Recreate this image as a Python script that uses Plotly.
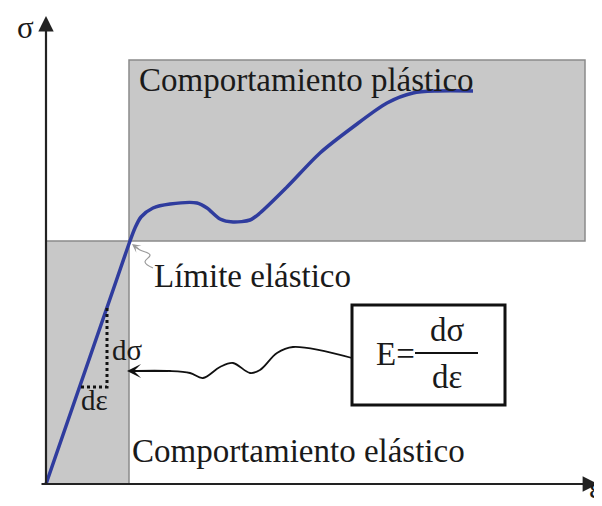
import plotly.graph_objects as go

# Stress-strain curve (strain epsilon, stress sigma) in arbitrary units
strain = [0.0, 0.42, 0.70, 0.84, 0.89, 0.95, 1.07, 1.24, 1.51, 1.61, 1.74, 1.87,
          2.04, 2.14, 2.41, 2.74, 3.07, 3.41, 3.67, 3.91, 4.27]
stress = [0.0, 1.215, 2.025, 2.43, 2.56, 2.67, 2.76, 2.80, 2.81, 2.76, 2.65, 2.62,
          2.64, 2.71, 2.97, 3.31, 3.57, 3.81, 3.91, 3.93, 3.93]

# Zones
elastic_eps = [0.0, 0.83]
elastic_sig = [0.0, 2.43]
plastic_eps = [0.83, 5.39]
plastic_sig = [2.43, 4.24]

# Slope triangle (d-sigma / d-epsilon)
tri_eps = [0.61, 0.61, 0.35]
tri_sig = [1.76, 0.97, 0.97]

# Wavy connector from formula box to the slope
wave_eps = [3.06, 2.47, 2.31, 2.14, 2.04, 1.87, 1.74, 1.57, 1.44, 1.24, 0.84]
wave_sig = [1.26, 1.37, 1.31, 1.14, 1.11, 1.21, 1.17, 1.06, 1.11, 1.13, 1.13]
wave_tip = [0.81, 1.13]

# Small wavy pointer to the elastic limit
lim_eps = [1.07, 0.99, 1.04, 0.94, 0.88]
lim_sig = [2.16, 2.22, 2.29, 2.34, 2.38]
lim_tip = [0.86, 2.40]

# Formula box
box_eps = [3.06, 4.59]
box_sig = [0.79, 1.79]

# Axis extents
x_axis = [-0.06, 5.52]
y_axis = [-0.02, 4.68]

SERIF = "Liberation Serif, Times New Roman, serif"
TXT = "#1a1a1a"

fig = go.Figure()

fig.add_trace(go.Scatter(x=strain, y=stress, mode="lines",
                         line=dict(color="#2f3c9e", width=3.5, shape="spline", smoothing=0.8),
                         hoverinfo="skip", showlegend=False))

fig.add_trace(go.Scatter(x=tri_eps, y=tri_sig, mode="lines",
                         line=dict(color="#111111", width=3, dash="dot"),
                         hoverinfo="skip", showlegend=False))

fig.add_trace(go.Scatter(x=wave_eps, y=wave_sig, mode="lines",
                         line=dict(color="#111111", width=1.8, shape="spline", smoothing=1.0),
                         hoverinfo="skip", showlegend=False))

fig.add_trace(go.Scatter(x=lim_eps, y=lim_sig, mode="lines",
                         line=dict(color="#9a9a9a", width=1.2, shape="spline", smoothing=1.2),
                         hoverinfo="skip", showlegend=False))

shapes = [
    dict(type="rect", xref="x", yref="y", x0=plastic_eps[0], x1=plastic_eps[1],
         y0=plastic_sig[0], y1=plastic_sig[1], fillcolor="#c8c8c8",
         line=dict(color="#8a8a8a", width=1.5), layer="below"),
    dict(type="rect", xref="x", yref="y", x0=elastic_eps[0], x1=elastic_eps[1],
         y0=elastic_sig[0], y1=elastic_sig[1], fillcolor="#c8c8c8",
         line=dict(color="#8a8a8a", width=1.5), layer="below"),
    dict(type="rect", xref="x", yref="y", x0=box_eps[0], x1=box_eps[1],
         y0=box_sig[0], y1=box_sig[1], fillcolor="white",
         line=dict(color="#111111", width=3), layer="above"),
    dict(type="line", xref="x", yref="y", x0=3.69, x1=4.32,
         y0=1.31, y1=1.31, line=dict(color="#111111", width=2), layer="above"),
]

annotations = [
    dict(x=0, y=y_axis[1], ax=0, ay=y_axis[0], xref="x", yref="y", axref="x", ayref="y",
         text="", showarrow=True, arrowhead=2, arrowsize=1.4, arrowwidth=2.2, arrowcolor="#222222"),
    dict(x=x_axis[1], y=0, ax=x_axis[0], ay=0, xref="x", yref="y", axref="x", ayref="y",
         text="", showarrow=True, arrowhead=2, arrowsize=1.4, arrowwidth=2.2, arrowcolor="#222222"),
    dict(x=wave_tip[0], y=wave_tip[1], ax=wave_eps[-2], ay=wave_sig[-2],
         xref="x", yref="y", axref="x", ayref="y", text="", showarrow=True,
         arrowhead=3, arrowsize=1.3, arrowwidth=1.8, arrowcolor="#111111"),
    dict(x=lim_tip[0], y=lim_tip[1], ax=lim_eps[-2], ay=lim_sig[-2],
         xref="x", yref="y", axref="x", ayref="y", text="", showarrow=True,
         arrowhead=3, arrowsize=1.2, arrowwidth=1.2, arrowcolor="#9a9a9a"),
]

def label(txt, x, y, size, xanchor="left", yanchor="middle"):
    annotations.append(dict(x=x, y=y, xref="x", yref="y", text=txt, showarrow=False,
                            xanchor=xanchor, yanchor=yanchor,
                            font=dict(family=SERIF, size=size, color=TXT)))

label("Comportamiento plástico", 0.91, 4.04, 33)
label("Límite elástico", 1.06, 2.08, 33)
label("Comportamiento elástico", 0.84, 0.33, 33)
label("dσ", 0.64, 1.34, 29)
label("dε", 0.33, 0.84, 29)
label("σ", -0.21, 4.76, 31, xanchor="center", yanchor="top")
label("ε", 5.49, -0.22, 30, xanchor="center", yanchor="bottom")
label("E=", 3.28, 1.30, 33)
label("dσ", 4.01, 1.54, 33, xanchor="center")
label("dε", 4.01, 1.07, 33, xanchor="center")

# Page body has an 8px default margin; size the figure to fit the 602x506 window
fig.update_layout(
    width=594, height=498,
    margin=dict(l=0, r=0, t=0, b=0),
    paper_bgcolor="white", plot_bgcolor="white",
    xaxis=dict(range=[-0.38, 5.56], visible=False, fixedrange=True),
    yaxis=dict(range=[-0.22, 4.76], visible=False, fixedrange=True),
    shapes=shapes, annotations=annotations,
    showlegend=False,
)

fig.write_html("out.html")
